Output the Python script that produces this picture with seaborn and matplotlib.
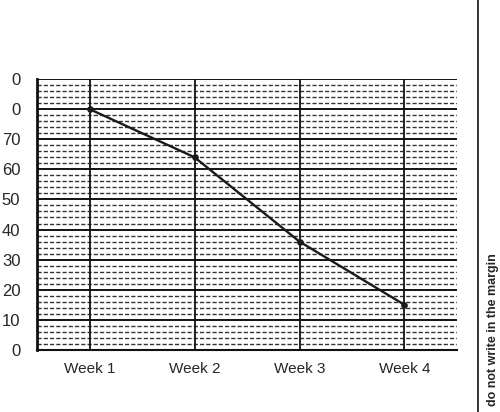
import matplotlib
matplotlib.use("Agg")
import matplotlib.pyplot as plt
import seaborn as sns
import pandas as pd
import numpy as np

sns.set_style("white")
plt.rcParams['font.family'] = ['Liberation Sans', 'DejaVu Sans']

weeks = ["Week 1", "Week 2", "Week 3", "Week 4"]
values = [80, 64, 36, 15]
y_ticks = [0, 10, 20, 30, 40, 50, 60, 70, 80, 90]
y_tick_labels = ["0", "10", "20", "30", "40", "50", "60", "70", "0", "0"]

df = pd.DataFrame({"week": weeks, "value": values})
df["pos"] = range(len(weeks))

fig = plt.figure(figsize=(5.0, 4.12), dpi=100)
ax = fig.add_axes([0.074, 0.1505, 0.84, 0.6578])

# minor dashed grid every 2 units
for y in np.arange(0, 90, 2):
    if y % 10:
        ax.axhline(y, color="#333333", lw=1.0, ls=(0, (3, 1.5)), zorder=1)
for y in y_ticks:
    ax.axhline(y, color="#111111", lw=1.4, zorder=2)
for x in df["pos"]:
    ax.axvline(x, color="#111111", lw=1.3, zorder=2)

sns.lineplot(data=df, x="pos", y="value", color="#1a1a1a", lw=1.7,
             marker="o", markersize=4, markeredgecolor="#1a1a1a",
             ax=ax, zorder=3)

ax.set_xlim(-0.5, 3.5)
ax.set_ylim(0, 90)
ax.set_xticks(df["pos"])
ax.set_xticklabels(weeks, fontsize=11)
ax.set_yticks(y_ticks)
ax.set_yticklabels(y_tick_labels, fontsize=12)
ax.tick_params(axis="y", length=4, width=1.2, color="#111111", pad=8)
ax.tick_params(axis="x", length=0, pad=9)
ax.set_xlabel("")
ax.set_ylabel("")

for s in ["top", "right"]:
    ax.spines[s].set_visible(False)
ax.spines["left"].set_linewidth(2)
ax.spines["left"].set_color("#111111")
ax.spines["bottom"].set_linewidth(1.5)
ax.spines["bottom"].set_color("#111111")

# margin line and note
fig.add_artist(plt.Line2D([0.956, 0.956], [0.0, 1.0], color="#111111", lw=1.2))
fig.text(0.986, 0.2, "do not write in the margin", rotation=90,
         ha="center", va="center", fontsize=9, fontweight="bold")

fig.savefig("out.png", dpi=100)
